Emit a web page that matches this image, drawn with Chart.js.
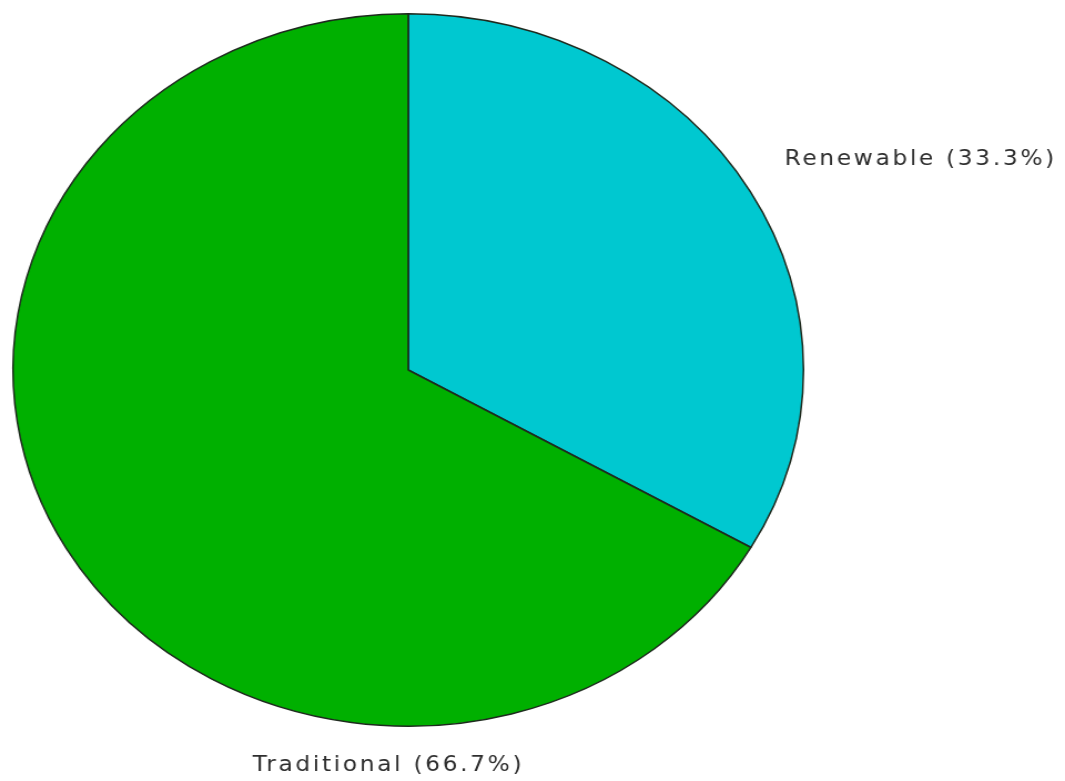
<!DOCTYPE html>
<html>
<head>
<meta charset="utf-8">
<script src="https://cdn.jsdelivr.net/npm/chart.js@4"></script>
<style>
  html, body { margin: 0; padding: 0; background: #fff; overflow: hidden; }
  #wrap { width: 960px; height: 781px; transform: scaleX(1.1094); transform-origin: 0 0; }
</style>
</head>
<body>
<div id="wrap"><canvas id="pie-chart" width="960" height="781"></canvas></div>
<script>
// data
const categories = ['Renewable', 'Traditional'];
const shares = [33.3, 66.7];
const sliceColors = ['#00c8d0', '#00b000'];

// draws "Name (xx.x%)" outside each slice
const outsideLabels = {
    id: 'outsideLabels',
    afterDatasetsDraw(chart) {
        const ctx = chart.ctx;
        const arcs = chart.getDatasetMeta(0).data;
        ctx.save();
        ctx.font = '21px "DejaVu Sans", Verdana, sans-serif';
        ctx.letterSpacing = '2.4px';
        ctx.fillStyle = '#2e2e2e';
        ctx.textBaseline = 'middle';
        arcs.forEach((arc, i) => {
            const text = categories[i] + ' (' + shares[i].toFixed(1) + '%)';
            const r = arc.outerRadius;
            if (i === 0) {
                // right side, at the middle angle of the slice
                const mid = (arc.startAngle + arc.endAngle) / 2;
                ctx.textAlign = 'left';
                ctx.fillText(text, arc.x + Math.cos(mid) * r * 1.1, arc.y + Math.sin(mid) * r * 1.18);
            } else {
                // under the pie
                ctx.textAlign = 'center';
                ctx.fillText(text, arc.x - r * 0.05, arc.y + r * 1.11);
            }
        });
        ctx.restore();
    }
};

new Chart(document.querySelector('#pie-chart').getContext('2d'), {
    type: 'pie',
    data: {
        labels: categories,
        datasets: [{
            data: shares,
            backgroundColor: sliceColors,
            borderColor: '#1e2a1e',
            borderWidth: 1.5
        }]
    },
    options: {
        responsive: false,
        animation: false,
        layout: { padding: { left: 11, right: 235, top: 13, bottom: 54 } },
        plugins: {
            legend: { display: false },
            tooltip: { enabled: false }
        }
    },
    plugins: [outsideLabels]
});
</script>
</body>
</html>
